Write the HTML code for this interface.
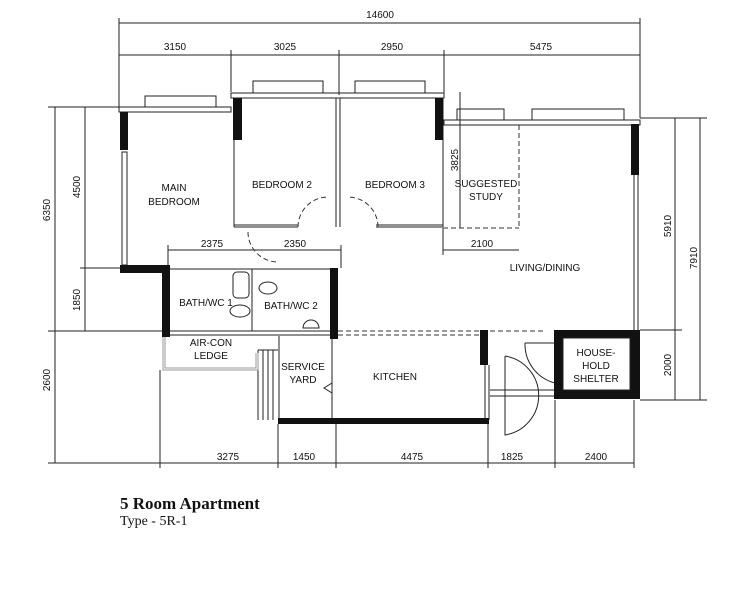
<!DOCTYPE html>
<html><head><meta charset="utf-8"><style>
body{margin:0;background:#fff}
svg{display:block}
text{font-family:"Liberation Sans",sans-serif;font-size:10px;fill:#111}
</style></head><body>
<svg width="734" height="600" viewBox="0 0 734 600" xmlns="http://www.w3.org/2000/svg">
<g stroke="#222" stroke-width="1" fill="none">
<!-- top dims -->
<line x1="119" y1="23" x2="640" y2="23"/>
<line x1="119" y1="55" x2="640" y2="55"/>
<line x1="119" y1="18" x2="119" y2="110"/>
<line x1="231" y1="50" x2="231" y2="92"/>
<line x1="339" y1="50" x2="339" y2="95"/>
<line x1="444" y1="50" x2="444" y2="95"/>
<line x1="640" y1="18" x2="640" y2="118"/>
<!-- left dims -->
<line x1="55" y1="107" x2="55" y2="463"/>
<line x1="85" y1="107" x2="85" y2="331"/>
<line x1="48" y1="107" x2="120" y2="107"/>
<line x1="80" y1="268" x2="120" y2="268"/>
<line x1="48" y1="331" x2="162" y2="331"/>
<line x1="48" y1="463" x2="162" y2="463"/>
<!-- right dims -->
<line x1="675" y1="118" x2="675" y2="400"/>
<line x1="700" y1="118" x2="700" y2="400"/>
<line x1="640" y1="118" x2="707" y2="118"/>
<line x1="640" y1="330" x2="682" y2="330"/>
<line x1="640" y1="400" x2="707" y2="400"/>
<!-- bottom dims -->
<line x1="160" y1="463" x2="634" y2="463"/>
<line x1="160" y1="370" x2="160" y2="468"/>
<line x1="278" y1="424" x2="278" y2="468"/>
<line x1="336" y1="424" x2="336" y2="468"/>
<line x1="488" y1="424" x2="488" y2="468"/>
<line x1="555" y1="400" x2="555" y2="468"/>
<line x1="634" y1="400" x2="634" y2="468"/>
<!-- inner dims -->
<line x1="168" y1="250" x2="341" y2="250"/>
<line x1="168" y1="245" x2="168" y2="268"/>
<line x1="341" y1="245" x2="341" y2="268"/>
<line x1="443" y1="250" x2="519" y2="250"/>
<line x1="443" y1="228" x2="443" y2="255"/>
<line x1="460" y1="92" x2="460" y2="228"/>
<!-- main bedroom -->
<rect x="119" y="107" width="112" height="5"/>
<rect x="145" y="96" width="71" height="11"/>
<rect x="122" y="152" width="5" height="113"/>
<!-- bedroom 2/3 top -->
<rect x="231" y="93" width="213" height="5"/>
<rect x="253" y="81" width="70" height="12"/>
<rect x="355" y="81" width="70" height="12"/>
<line x1="234" y1="98" x2="234" y2="227"/>
<line x1="234" y1="227" x2="298" y2="227"/>
<line x1="234" y1="225" x2="298" y2="225"/>
<line x1="336" y1="98" x2="336" y2="227"/>
<line x1="340" y1="98" x2="340" y2="227"/>
<line x1="376" y1="227" x2="443" y2="227"/>
<line x1="376" y1="225" x2="443" y2="225"/>
<line x1="443" y1="98" x2="443" y2="227"/>
<!-- study / living top -->
<rect x="444" y="120" width="196" height="5"/>
<rect x="457" y="109" width="47" height="11"/>
<rect x="532" y="109" width="92" height="11"/>
<line x1="634" y1="175" x2="634" y2="330"/>
<line x1="638" y1="175" x2="638" y2="330"/>
<!-- baths -->
<line x1="170" y1="269" x2="330" y2="269"/>
<line x1="170" y1="331" x2="330" y2="331"/>
<line x1="170" y1="335" x2="330" y2="335"/>
<line x1="252" y1="269" x2="252" y2="331"/>
<rect x="233" y="272" width="16" height="26" rx="4"/>
<ellipse cx="240" cy="311" rx="10" ry="6"/>
<ellipse cx="268" cy="288" rx="9" ry="6"/>
<path d="M303 328 a8 8 0 0 1 16 0 z"/>
<!-- kitchen / service -->
<line x1="279" y1="336" x2="279" y2="420"/>
<line x1="332" y1="336" x2="332" y2="420"/>
<line x1="485" y1="365" x2="485" y2="420"/>
<line x1="489" y1="365" x2="489" y2="420"/>
<line x1="258" y1="350" x2="258" y2="420"/>
<line x1="263" y1="350" x2="263" y2="420"/>
<line x1="268" y1="350" x2="268" y2="420"/>
<line x1="273" y1="350" x2="273" y2="420"/>
<line x1="258" y1="350" x2="278" y2="350"/>
<path d="M332 383 l-8 5 l8 5"/>
<!-- entry doors -->
<line x1="490" y1="390" x2="555" y2="390"/>
<line x1="490" y1="396" x2="555" y2="396"/>
<path d="M505 356 v79 a40 40 0 0 0 0 -79"/>
<path d="M525 343 a40 40 0 0 0 30 40"/>
<line x1="525" y1="343" x2="555" y2="343"/>
</g>
<!-- dashed -->
<g stroke="#333" stroke-width="1" fill="none" stroke-dasharray="5,3">
<line x1="519" y1="125" x2="519" y2="228"/>
<line x1="443" y1="228" x2="519" y2="228"/>
<line x1="338" y1="331" x2="545" y2="331"/>
<line x1="338" y1="335" x2="480" y2="335"/>
<path d="M298 227 a30 30 0 0 1 30 -30"/>
<path d="M378 227 a30 30 0 0 0 -30 -30"/>
<path d="M248 232 a30 30 0 0 0 30 30"/>
</g>
<!-- gray ledge -->
<path d="M164 336 v33 h93 v-16" stroke="#999" stroke-width="3" fill="none"/>
<path d="M164 336 v33 h93 v-16" stroke="#fff" stroke-width="1" fill="none"/>
<!-- black walls -->
<g fill="#111">
<rect x="120" y="112" width="8" height="38"/>
<rect x="120" y="265" width="50" height="8"/>
<rect x="162" y="265" width="8" height="72"/>
<rect x="233" y="98" width="9" height="42"/>
<rect x="435" y="98" width="8" height="42"/>
<rect x="631" y="124" width="8" height="51"/>
<rect x="330" y="268" width="8" height="71"/>
<rect x="480" y="330" width="8" height="35"/>
<rect x="278" y="418" width="211" height="6"/>
<rect x="554" y="330" width="86" height="69"/>
</g>
<rect x="563" y="338" width="67" height="52" fill="#fff" stroke="#222"/>
<!-- dim labels -->
<text x="380" y="18" text-anchor="middle">14600</text>
<text x="175" y="50" text-anchor="middle">3150</text>
<text x="285" y="50" text-anchor="middle">3025</text>
<text x="392" y="50" text-anchor="middle">2950</text>
<text x="541" y="50" text-anchor="middle">5475</text>
<text x="228" y="460" text-anchor="middle">3275</text>
<text x="304" y="460" text-anchor="middle">1450</text>
<text x="412" y="460" text-anchor="middle">4475</text>
<text x="512" y="460" text-anchor="middle">1825</text>
<text x="596" y="460" text-anchor="middle">2400</text>
<text x="212" y="247" text-anchor="middle">2375</text>
<text x="295" y="247" text-anchor="middle">2350</text>
<text x="482" y="247" text-anchor="middle">2100</text>
<text transform="translate(50,210) rotate(-90)" text-anchor="middle">6350</text>
<text transform="translate(80,187) rotate(-90)" text-anchor="middle">4500</text>
<text transform="translate(80,300) rotate(-90)" text-anchor="middle">1850</text>
<text transform="translate(50,380) rotate(-90)" text-anchor="middle">2600</text>
<text transform="translate(458,160) rotate(-90)" text-anchor="middle">3825</text>
<text transform="translate(671,226) rotate(-90)" text-anchor="middle">5910</text>
<text transform="translate(697,258) rotate(-90)" text-anchor="middle">7910</text>
<text transform="translate(671,365) rotate(-90)" text-anchor="middle">2000</text>
<!-- room labels -->
<text x="174" y="191" text-anchor="middle">MAIN</text>
<text x="174" y="205" text-anchor="middle">BEDROOM</text>
<text x="282" y="188" text-anchor="middle">BEDROOM 2</text>
<text x="395" y="188" text-anchor="middle">BEDROOM 3</text>
<text x="486" y="187" text-anchor="middle">SUGGESTED</text>
<text x="486" y="200" text-anchor="middle">STUDY</text>
<text x="545" y="271" text-anchor="middle">LIVING/DINING</text>
<text x="206" y="306" text-anchor="middle">BATH/WC 1</text>
<text x="291" y="309" text-anchor="middle">BATH/WC 2</text>
<text x="211" y="346" text-anchor="middle">AIR-CON</text>
<text x="211" y="359" text-anchor="middle">LEDGE</text>
<text x="303" y="370" text-anchor="middle">SERVICE</text>
<text x="303" y="383" text-anchor="middle">YARD</text>
<text x="395" y="380" text-anchor="middle">KITCHEN</text>
<text x="596" y="356" text-anchor="middle">HOUSE-</text>
<text x="596" y="369" text-anchor="middle">HOLD</text>
<text x="596" y="382" text-anchor="middle">SHELTER</text>
<text x="120" y="509" style="font-family:'Liberation Serif',serif;font-size:17px;font-weight:bold">5 Room Apartment</text>
<text x="120" y="525" style="font-family:'Liberation Serif',serif;font-size:14px">Type - 5R-1</text>
</svg>
</body></html>
